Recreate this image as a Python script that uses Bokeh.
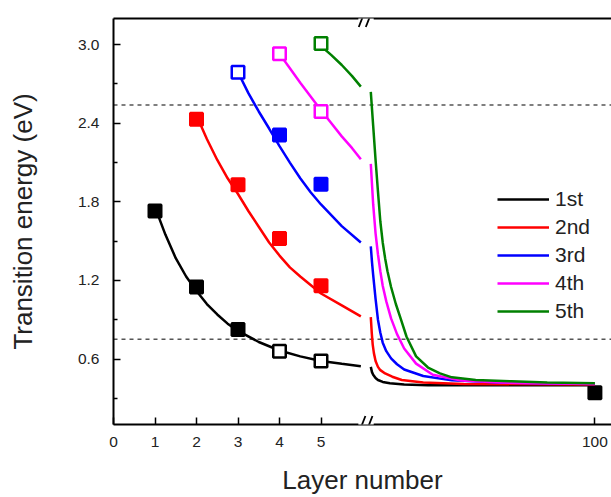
from bokeh.plotting import figure
from bokeh.models import (Range1d, FixedTicker, Span, Arrow, Legend, LegendItem,
                          ColumnDataSource, LinearAxis, PrintfTickFormatter)
from bokeh.embed import file_html
from bokeh.resources import INLINE

# ---------------- data ----------------
labels = ["1st", "2nd", "3rd", "4th", "5th"]
colors = ["#000000", "#ff0000", "#0000ff", "#ff00ff", "#008000"]

# measured points (layer number, energy, filled?)
pts_n_1st = [1, 2, 3, 4, 5, 100]
pts_e_1st = [1.73, 1.15, 0.825, 0.66, 0.585, 0.342]
pts_f_1st = [1, 1, 1, 0, 0, 1]
pts_n_2nd = [2, 3, 4, 5]
pts_e_2nd = [2.43, 1.93, 1.52, 1.16]
pts_f_2nd = [1, 1, 1, 1]
pts_n_3rd = [3, 4, 5]
pts_e_3rd = [2.79, 2.31, 1.935]
pts_f_3rd = [0, 1, 1]
pts_n_4th = [4, 5]
pts_e_4th = [2.93, 2.49]
pts_f_4th = [0, 0]
pts_n_5th = [5]
pts_e_5th = [3.01]
pts_f_5th = [0]

# fitted curves, left part (layers 1..6)
fitL_n_1st = [1.0, 1.25, 1.5, 1.75, 2.0, 2.25, 2.5, 2.75, 3.0, 3.5, 4.0, 4.5, 5.0, 5.5, 5.96]
fitL_e_1st = [1.76, 1.55, 1.37, 1.23, 1.12, 1.02, 0.94, 0.87, 0.815, 0.73, 0.665, 0.62, 0.585, 0.563, 0.545]
fitL_n_2nd = [2.0, 2.25, 2.5, 2.75, 3.0, 3.25, 3.5, 3.75, 4.0, 4.25, 4.5, 5.0, 5.5, 5.96]
fitL_e_2nd = [2.46, 2.28, 2.12, 1.98, 1.86, 1.73, 1.61, 1.49, 1.39, 1.30, 1.23, 1.10, 1.01, 0.925]
fitL_n_3rd = [3.0, 3.25, 3.5, 3.75, 4.0, 4.25, 4.5, 4.75, 5.0, 5.5, 5.96]
fitL_e_3rd = [2.79, 2.63, 2.49, 2.36, 2.225, 2.10, 1.98, 1.873, 1.78, 1.615, 1.49]
fitL_n_4th = [4.0, 4.25, 4.5, 4.75, 5.0, 5.25, 5.5, 5.75, 5.96]
fitL_e_4th = [2.93, 2.82, 2.71, 2.605, 2.50, 2.40, 2.30, 2.21, 2.125]
fitL_n_5th = [5.0, 5.25, 5.5, 5.75, 5.96]
fitL_e_5th = [2.99, 2.92, 2.845, 2.76, 2.68]

# fitted curves, right part (layers 6..100)
fitR_n_1st = [6, 6.5, 7, 8, 9, 11, 14, 20, 30, 100]
fitR_e_1st = [0.54, 0.50, 0.48, 0.455, 0.44, 0.425, 0.415, 0.405, 0.40, 0.40]
fitR_n_2nd = [6, 6.4, 6.8, 7.3, 8, 9, 10, 12, 15, 19, 28, 45, 100]
fitR_e_2nd = [0.92, 0.80, 0.71, 0.645, 0.585, 0.54, 0.515, 0.49, 0.465, 0.44, 0.42, 0.41, 0.405]
fitR_n_3rd = [6, 6.5, 7, 8, 9, 10, 11, 12.5, 14.5, 17, 20, 28, 40, 60, 100]
fitR_e_3rd = [1.46, 1.34, 1.24, 1.06, 0.90, 0.80, 0.725, 0.66, 0.605, 0.56, 0.52, 0.47, 0.437, 0.42, 0.41]
fitR_n_4th = [6, 7, 8, 9, 10, 11, 12.5, 14.5, 17, 20, 25, 32, 44, 60, 80, 100]
fitR_e_4th = [2.09, 1.78, 1.56, 1.40, 1.27, 1.16, 1.04, 0.91, 0.79, 0.68, 0.565, 0.48, 0.435, 0.42, 0.413, 0.41]
fitR_n_5th = [6, 7, 8, 9, 10, 11, 12, 13, 14.5, 16.5, 18.5, 21, 25, 30, 35, 40, 50, 65, 80, 100]
fitR_e_5th = [2.64, 2.38, 2.12, 1.88, 1.65, 1.49, 1.37, 1.27, 1.15, 1.02, 0.91, 0.77, 0.62, 0.535, 0.49, 0.46, 0.44, 0.43, 0.42, 0.415]

x_ticks_left = [0, 1, 2, 3, 4, 5]
x_tick_right = 100
y_ticks = [0.6, 1.2, 1.8, 2.4, 3.0]
y_minor_ticks = [0.3, 0.9, 1.5, 2.1, 2.7]
dashed_levels = [2.54, 0.75]

pts_n = [pts_n_1st, pts_n_2nd, pts_n_3rd, pts_n_4th, pts_n_5th]
pts_e = [pts_e_1st, pts_e_2nd, pts_e_3rd, pts_e_4th, pts_e_5th]
pts_f = [pts_f_1st, pts_f_2nd, pts_f_3rd, pts_f_4th, pts_f_5th]
fitL_n = [fitL_n_1st, fitL_n_2nd, fitL_n_3rd, fitL_n_4th, fitL_n_5th]
fitL_e = [fitL_e_1st, fitL_e_2nd, fitL_e_3rd, fitL_e_4th, fitL_e_5th]
fitR_n = [fitR_n_1st, fitR_n_2nd, fitR_n_3rd, fitR_n_4th, fitR_n_5th]
fitR_e = [fitR_e_1st, fitR_e_2nd, fitR_e_3rd, fitR_e_4th, fitR_e_5th]

# ---------------- broken-axis layout ----------------
X_END = 12.0                 # primary (left) axis units across the frame
X_BREAK = 6.08
X_R0, N_R0 = 6.2, 6          # where layer 6 of the right part sits
X_R1, N_R1 = 11.6, 100       # where layer 100 sits
k = (N_R1 - N_R0) / (X_R1 - X_R0)
right_start = N_R0 - X_R0 * k
right_end = N_R1 + (X_END - X_R1) * k
Y0, Y1 = 0.1, 3.2

FONT = "Liberation Sans"
TXT = "#222222"

p = figure(width=611, height=497, x_range=Range1d(0, X_END), y_range=Range1d(Y0, Y1),
           output_backend="svg", toolbar_location=None,
           min_border_left=113, min_border_right=0, min_border_top=18, min_border_bottom=70)
p.extra_x_ranges = {"right": Range1d(right_start, right_end)}
p.grid.visible = False
p.outline_line_color = None
p.background_fill_color = "white"

# axes
xa = p.xaxis[0]
xa.ticker = FixedTicker(ticks=x_ticks_left + [X_R1])
xa.major_label_overrides = {X_R1: str(x_tick_right)}
xa.axis_label = "Layer number"
ya = p.yaxis[0]
ya.ticker = FixedTicker(ticks=y_ticks, minor_ticks=y_minor_ticks)
ya.formatter = PrintfTickFormatter(format="%.1f")
ya.axis_label = "Transition energy (eV)"
for ax in (xa, ya):
    ax.axis_line_width = 2
    ax.axis_line_color = "black"
    ax.major_tick_in = 7
    ax.major_tick_out = 0
    ax.major_tick_line_width = 1.5
    ax.minor_tick_in = 4
    ax.minor_tick_out = 0
    ax.minor_tick_line_width = 1.5
    ax.major_label_text_font = FONT
    ax.major_label_text_font_size = "15.5px"
    ax.major_label_text_color = TXT
    ax.axis_label_text_font = FONT
    ax.axis_label_text_font_size = "26px"
    ax.axis_label_text_font_style = "normal"
    ax.axis_label_text_color = TXT
xa.minor_tick_in = 0
xa.major_label_standoff = 12
xa.axis_label_standoff = 15
ya.major_label_standoff = 14
ya.axis_label_standoff = 37

# top frame line (plain axis without ticks or labels)
top = LinearAxis(ticker=FixedTicker(ticks=[]), axis_line_width=2, axis_line_color="black",
                 major_tick_in=0, major_tick_out=0, minor_tick_in=0, minor_tick_out=0,
                 major_label_standoff=0, major_label_text_font_size="0px")
p.add_layout(top, "above")

# dashed reference levels
for lv in dashed_levels:
    p.add_layout(Span(location=lv, dimension="width", line_color="#555555",
                      line_width=1.5, line_dash="4 4", level="underlay"))

# curves and markers
legend_items = []
for i in range(len(labels)):
    c = colors[i]
    rl = p.line(fitL_n[i], fitL_e[i], line_color=c, line_width=2.5)
    p.line(fitR_n[i], fitR_e[i], line_color=c, line_width=2.5, x_range_name="right")
    legend_items.append(LegendItem(label=labels[i], renderers=[rl]))
    for side in ("left", "right"):
        idx = [j for j, n in enumerate(pts_n[i]) if (n <= N_R0) == (side == "left")]
        if not idx:
            continue
        src = ColumnDataSource(dict(
            x=[pts_n[i][j] for j in idx],
            y=[pts_e[i][j] for j in idx],
            fc=[c if pts_f[i][j] else "white" for j in idx]))
        kw = {} if side == "left" else {"x_range_name": "right"}
        p.scatter("x", "y", source=src, marker="square", size=12.5, line_width=2.5,
                  line_color=c, fill_color="fc", **kw)

# axis break marks
dx, dy = 0.08, 0.065
for yb in (Y0, Y1):
    p.add_layout(Arrow(end=None, x_start=X_BREAK - 0.18, x_end=X_BREAK + 0.19,
                       y_start=yb, y_end=yb, line_color="white", line_width=5))
    for xc in (X_BREAK - 0.09, X_BREAK + 0.08):
        p.add_layout(Arrow(end=None, x_start=xc - dx, y_start=yb - dy,
                           x_end=xc + dx, y_end=yb + dy,
                           line_color="black", line_width=1.8))

legend = Legend(items=legend_items, location=(384, 101), padding=0, margin=0,
                border_line_alpha=0, background_fill_alpha=0,
                glyph_width=52, glyph_height=24, label_height=24, spacing=4,
                label_standoff=6, label_text_font=FONT, label_text_font_size="21px",
                label_text_color=TXT)
p.add_layout(legend)

open("out.html", "w").write(file_html(p, INLINE))
